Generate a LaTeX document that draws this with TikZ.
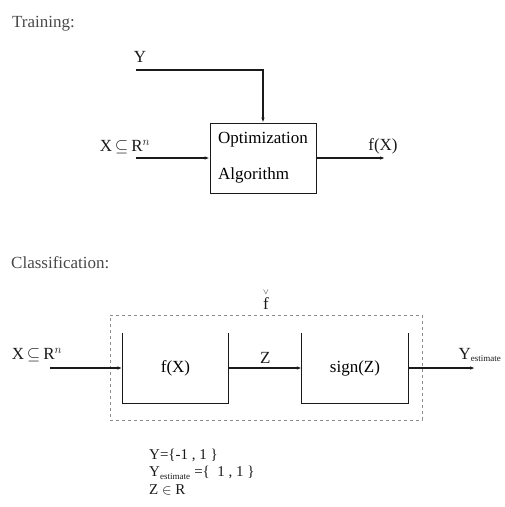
\documentclass[tikz,border=0pt]{standalone}
\usepackage{amsmath}
\usepackage{amssymb}
\usepackage{fontspec}
\setmainfont{Liberation Serif}
\usepackage{tikz}
\usetikzlibrary{arrows.meta, positioning}
\usepackage{xcolor}
\definecolor{diagInk} {HTML}{1A1A1A}
\definecolor{diagGray}{HTML}{8C8C8C}
\tikzset{
  label/.style  = {font=\fontsize{17}{20}\selectfont, text=diagInk, inner sep=1pt},
  caption/.style= {font=\fontsize{17}{20}\selectfont, text=diagInk!80, inner sep=1pt, anchor=west},
  optbox/.style = {rectangle, draw=diagInk, line width=0.8pt, align=left,
                   minimum width=106pt, minimum height=70pt, inner xsep=5pt,
                   font=\fontsize{17}{20}\selectfont},
  openbox/.style= {rectangle, minimum width=106pt, minimum height=70pt,
                   font=\fontsize{17}{20}\selectfont},
  dashbox/.style= {rectangle, draw=diagGray, dashed, line width=0.7pt,
                   minimum width=312pt, minimum height=105pt},
  arrow/.style  = {-{Latex[length=5pt,width=3.5pt]}, line width=1.1pt, color=diagInk},
}
\newcommand{\subest}{\textsubscript{\fontsize{9}{10}\selectfont estimate}}

\begin{document}
\begin{tikzpicture}[x=1pt, y=-1pt]
\useasboundingbox (0,0) rectangle (505,507);

% training
\node[caption] (train) at (11,24) {Training:};
\node[optbox] (opt) at (263,158) {\raisebox{-4pt}{Optimization}\\[20pt]Algorithm};
\coordinate (ystart) at (136,70);
\coordinate (xstart) at (136,158);
\coordinate (fend)   at (385,158);
\node[label] (ylab) at (140,57) {Y};
\node[label] (xlab) at (125,147) {X\,$\subseteq$\,R$^{n}$};
\node[label] (flab) at (383,146) {f(X)};

\draw[arrow] (ystart) -| (opt.north);
\draw[arrow] (xstart) -- (opt.west);
\draw[arrow] (opt.east) -- (fend);

% classification
\node[caption] (cls) at (10,263) {Classification:};
\node[dashbox] (fbox) at (266,367.5) {};
\node[label, above=4pt of fbox] (ftilde) {$\stackrel{\scriptscriptstyle\vee}{\mathrm{f}}$};
\node[openbox] (fx)  at (175.5,368) {f(X)};
\node[openbox] (sgn) at (355,368) {sign(Z)};
\coordinate (x2start) at (50,368);
\coordinate (yend)    at (475,368);
\node[label] (x2lab) at (37,355) {X\,$\subseteq$\,R$^{n}$};
\node[label] (yest)  at (480,355) {Y\subest};

\draw[line width=0.9pt, diagInk] (fx.north west) |- (fx.south east) -- (fx.north east);
\draw[line width=0.9pt, diagInk] (sgn.north west) |- (sgn.south east) -- (sgn.north east);
\draw[arrow] (x2start) -- (fx.west);
\draw[arrow] (fx.east) -- node[label, above=3pt] (zlab) {Z} (sgn.west);
\draw[arrow] (sgn.east) -- (yend);

\node[label, anchor=west, align=left, font=\fontsize{15}{17.5}\selectfont] (notes) at (148,472)
  {Y=\{-1 , 1 \}\\ Y\subest\ =\{\ \ 1 , 1 \}\\ Z $\in$ R};

\end{tikzpicture}
\end{document}
